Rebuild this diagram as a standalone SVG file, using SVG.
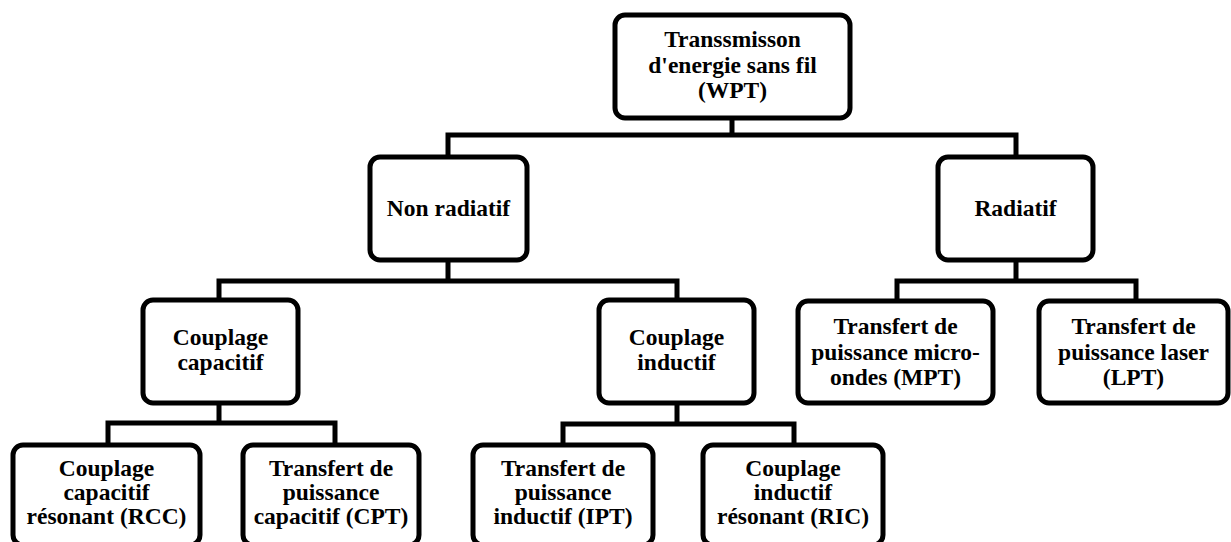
<svg xmlns="http://www.w3.org/2000/svg" width="1231" height="542" viewBox="0 0 1231 542">
<style>
.box{fill:#fff;stroke:#000;stroke-width:5}
.ln{fill:none;stroke:#000;stroke-width:5;stroke-linecap:square}
text{font-family:"Liberation Serif","Times New Roman",serif;font-weight:bold;font-size:23.5px;text-anchor:middle;fill:#000}
</style>
<rect width="1231" height="542" fill="#fff"/>
<g id="connectors">
<path class="ln" d="M732,118V135M448,135H1016M448,135V157M1016,135V157"/>
<path class="ln" d="M448,260V281M219,281H677M219,281V300M677,281V300"/>
<path class="ln" d="M1016,260V281M897,281H1136M897,281V301M1136,281V301"/>
<path class="ln" d="M219,403V423M108,423H335M108,423V445M335,423V445"/>
<path class="ln" d="M677,403V424M563,424H794M563,424V445M794,424V445"/>
</g>
<g id="wpt"><rect class="box" x="615" y="15" width="235" height="103" rx="10"/>
<text x="732.5" y="47">Transsmisson</text><text x="732.5" y="73">d'energie sans fil</text><text x="732.5" y="98">(WPT)</text></g>
<g id="nonrad"><rect class="box" x="370" y="157" width="157" height="103" rx="10"/>
<text x="448.5" y="216">Non radiatif</text></g>
<g id="radiatif"><rect class="box" x="938" y="157" width="155" height="103" rx="10"/>
<text x="1015.5" y="216">Radiatif</text></g>
<g id="capacitif"><rect class="box" x="143" y="300" width="155" height="103" rx="10"/>
<text x="220.5" y="345">Couplage</text><text x="220.5" y="370">capacitif</text></g>
<g id="inductif"><rect class="box" x="599" y="300" width="155" height="103" rx="10"/>
<text x="676.5" y="345">Couplage</text><text x="676.5" y="370">inductif</text></g>
<g id="mpt"><rect class="box" x="798" y="301" width="195" height="102" rx="10"/>
<text x="895.5" y="334">Transfert de</text><text x="895.5" y="360">puissance micro-</text><text x="895.5" y="385">ondes (MPT)</text></g>
<g id="lpt"><rect class="box" x="1039" y="301" width="189" height="102" rx="10"/>
<text x="1133.5" y="334">Transfert de</text><text x="1133.5" y="360">puissance laser</text><text x="1133.5" y="385">(LPT)</text></g>
<g id="rcc"><rect class="box" x="13" y="445" width="187" height="100" rx="10"/>
<text x="106.5" y="476">Couplage</text><text x="106.5" y="500">capacitif</text><text x="106.5" y="524">résonant (RCC)</text></g>
<g id="cpt"><rect class="box" x="243" y="445" width="176" height="100" rx="10"/>
<text x="331" y="476">Transfert de</text><text x="331" y="500">puissance</text><text x="331" y="524">capacitif (CPT)</text></g>
<g id="ipt"><rect class="box" x="473" y="445" width="180" height="100" rx="10"/>
<text x="563" y="476">Transfert de</text><text x="563" y="500">puissance</text><text x="563" y="524">inductif (IPT)</text></g>
<g id="ric"><rect class="box" x="703" y="445" width="180" height="100" rx="10"/>
<text x="793" y="476">Couplage</text><text x="793" y="500">inductif</text><text x="793" y="524">résonant (RIC)</text></g>
</svg>
